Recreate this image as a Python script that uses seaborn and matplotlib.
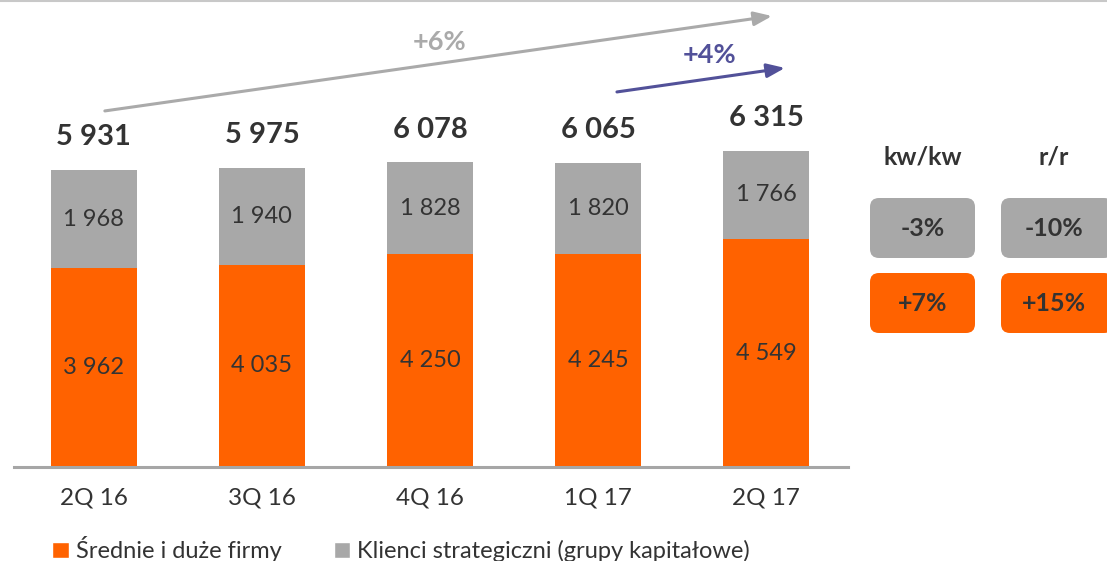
import matplotlib
matplotlib.use("Agg")
import matplotlib.pyplot as plt
import seaborn as sns
from matplotlib.patches import FancyBboxPatch
from matplotlib.lines import Line2D

# dane
quarters = ["2Q 16", "3Q 16", "4Q 16", "1Q 17", "2Q 17"]
srednie = [3962, 4035, 4250, 4245, 4549]
strategiczni = [1968, 1940, 1828, 1820, 1766]
totals = [5931, 5975, 6078, 6065, 6315]
labels = ["Średnie i duże firmy", "Klienci strategiczni (grupy kapitałowe)"]
change_headers = ["kw/kw", "r/r"]
change_strat = ["-3%", "-10%"]
change_sred = ["+7%", "+15%"]
growth_all = "+6%"
growth_last = "+4%"

ORANGE = "#FF6200"
GRAY = "#A8A8A8"
TXT = "#333333"
INDIGO = "#525199"

sns.set_theme(style="white")
plt.rcParams["font.family"] = ["Lato", "DejaVu Sans"]

def fmt(v):
    return f"{v:,}".replace(",", " ")

fig = plt.figure(figsize=(11.07, 5.61), dpi=100)
ax = fig.add_axes([0.0126, 0.1676, 0.7534, 0.8324])

# slupki: szary = suma, pomaranczowy na dole
sns.barplot(x=quarters, y=totals, color=GRAY, width=0.51, saturation=1,
            linewidth=0, edgecolor="none", ax=ax)
sns.barplot(x=quarters, y=srednie, color=ORANGE, width=0.51, saturation=1,
            linewidth=0, edgecolor="none", ax=ax)

ax.set_xlim(-0.476, 4.488)
ax.set_ylim(0, 9320)
for s in ["top", "right", "left"]:
    ax.spines[s].set_visible(False)
ax.spines["bottom"].set_color("#A6A6A6")
ax.spines["bottom"].set_linewidth(2.2)
ax.set_yticks([])
ax.set_xlabel("")
ax.set_ylabel("")
ax.tick_params(axis="x", length=0, pad=15, labelsize=17.5, labelcolor=TXT)

for i in range(len(quarters)):
    ax.text(i, srednie[i] / 2, fmt(srednie[i]), ha="center", va="center",
            fontsize=17, color=TXT)
    ax.text(i, srednie[i] + (totals[i] - srednie[i]) / 2, fmt(strategiczni[i]),
            ha="center", va="center", fontsize=17, color=TXT)
    ax.annotate(fmt(totals[i]), (i, totals[i]), xytext=(0, 23.5),
                textcoords="offset points", ha="center", va="center",
                fontsize=21, fontweight="bold", color=TXT)

# strzalki wzrostu
ax.annotate("", xy=(4.036, 9000), xytext=(0.065, 7106),
            arrowprops=dict(arrowstyle="-|>,head_length=0.9,head_width=0.35",
                            color="#AAAAAA", lw=2.2, shrinkA=0, shrinkB=0))
ax.text(2.06, 8483, growth_all, ha="center", va="center", fontsize=19.5,
        fontweight="bold", color="#AAAAAA")
ax.annotate("", xy=(4.113, 7964), xytext=(3.113, 7485),
            arrowprops=dict(arrowstyle="-|>,head_length=0.9,head_width=0.35",
                            color=INDIGO, lw=2.2, shrinkA=0, shrinkB=0))
ax.text(3.667, 8224, growth_last, ha="center", va="center", fontsize=19.5,
        fontweight="bold", color=INDIGO)

# panel z dynamika (wspolrzedne w pikselach)
ov = fig.add_axes([0, 0, 1, 1], facecolor="none")
ov.set_xlim(0, 1107)
ov.set_ylim(561, 0)
ov.axis("off")
ov.add_line(Line2D([0, 1107], [1, 1], color="#C8C8C8", lw=1.5))

col_x = [870, 1001]
box_w = [105, 112]
for j in range(2):
    cx = col_x[j] + 105 / 2
    ov.text(cx, 157, change_headers[j], ha="center", va="center",
            fontsize=18, fontweight="bold", color=TXT)
    for y0, col, txt in [(198, GRAY, change_strat[j]), (273, ORANGE, change_sred[j])]:
        ov.add_patch(FancyBboxPatch((col_x[j], y0), box_w[j], 60,
                                    boxstyle="round,pad=0,rounding_size=9",
                                    fc=col, ec="none"))
        ov.text(cx, y0 + 30, txt, ha="center", va="center", fontsize=18,
                fontweight="bold", color=TXT)

handles = [plt.Rectangle((0, 0), 1, 1, fc=ORANGE), plt.Rectangle((0, 0), 1, 1, fc=GRAY)]
fig.legend(handles, labels, loc="center left", bbox_to_anchor=(0.028, 0.021),
           ncol=2, frameon=False, fontsize=17, handlelength=0.7, handleheight=0.7,
           handletextpad=0.3, columnspacing=2.2, labelcolor=TXT)

fig.savefig("out.png", dpi=100)
